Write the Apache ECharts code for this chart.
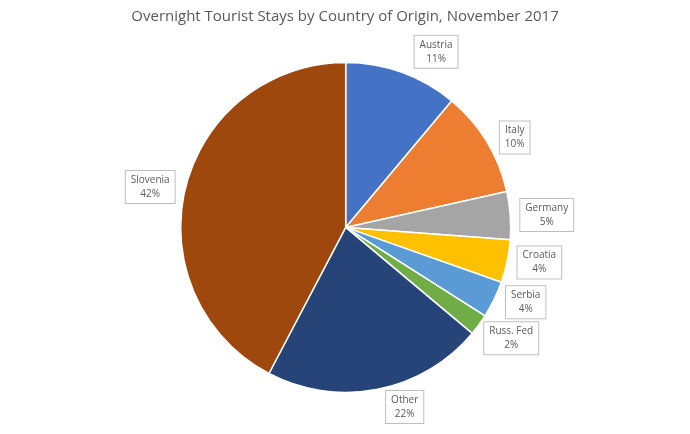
<!DOCTYPE html>
<html>
<head>
<meta charset="utf-8">
<script src="https://cdn.jsdelivr.net/npm/echarts@6/dist/echarts.min.js"></script>
<style>
html,body{margin:0;padding:0;background:#fff;}
#chart{width:690px;height:434px;}
</style>
</head>
<body>
<div id="chart"></div>
<script>
const categories = ['Austria', 'Italy', 'Germany', 'Croatia', 'Serbia', 'Russ. Fed', 'Other', 'Slovenia'];
const shares = [11.1, 10.4, 4.7, 4.2, 3.6, 2.1, 21.6, 42.3];
const colors = ['#4472C4', '#ED7D31', '#A5A5A5', '#FFC000', '#5B9BD5', '#70AD47', '#264478', '#9E480E'];
const lineLen1 = [22, 8, 6, 6, 6, 6, 18, 4];
const lineLen2 = [0, 2, 4, 4, 4, 2, 0, 2];

const chart = echarts.init(document.getElementById('chart'));
chart.setOption({
  backgroundColor: '#ffffff',
  animation: false,
  title: {
    text: 'Overnight Tourist Stays by Country of Origin, November 2017',
    left: 'center',
    top: 4,
    textStyle: { fontFamily: 'Open Sans', fontSize: 15, fontWeight: 'normal', color: '#595959' }
  },
  series: [{
    type: 'pie',
    center: ['50.1%', '52.4%'],
    radius: 165,
    startAngle: 90,
    clockwise: true,
    percentPrecision: 0,
    data: categories.map((c, i) => ({
      name: c, value: shares[i], itemStyle: { color: colors[i] },
      labelLine: { length: lineLen1[i], length2: lineLen2[i] }
    })),
    itemStyle: { borderColor: '#ffffff', borderWidth: 1.5 },
    label: {
      show: true,
      position: 'outside',
      formatter: '{t|{b}}\n{t|{d}%}',
      rich: {
        t: { fontFamily: 'Open Sans', fontSize: 10, lineHeight: 14, color: '#595959', align: 'center' }
      },
      backgroundColor: '#ffffff',
      borderColor: '#BFBFBF',
      borderWidth: 1,
      padding: [2, 5, 2, 5]
    },
    labelLine: { show: false }
  }]
});
</script>
</body>
</html>
